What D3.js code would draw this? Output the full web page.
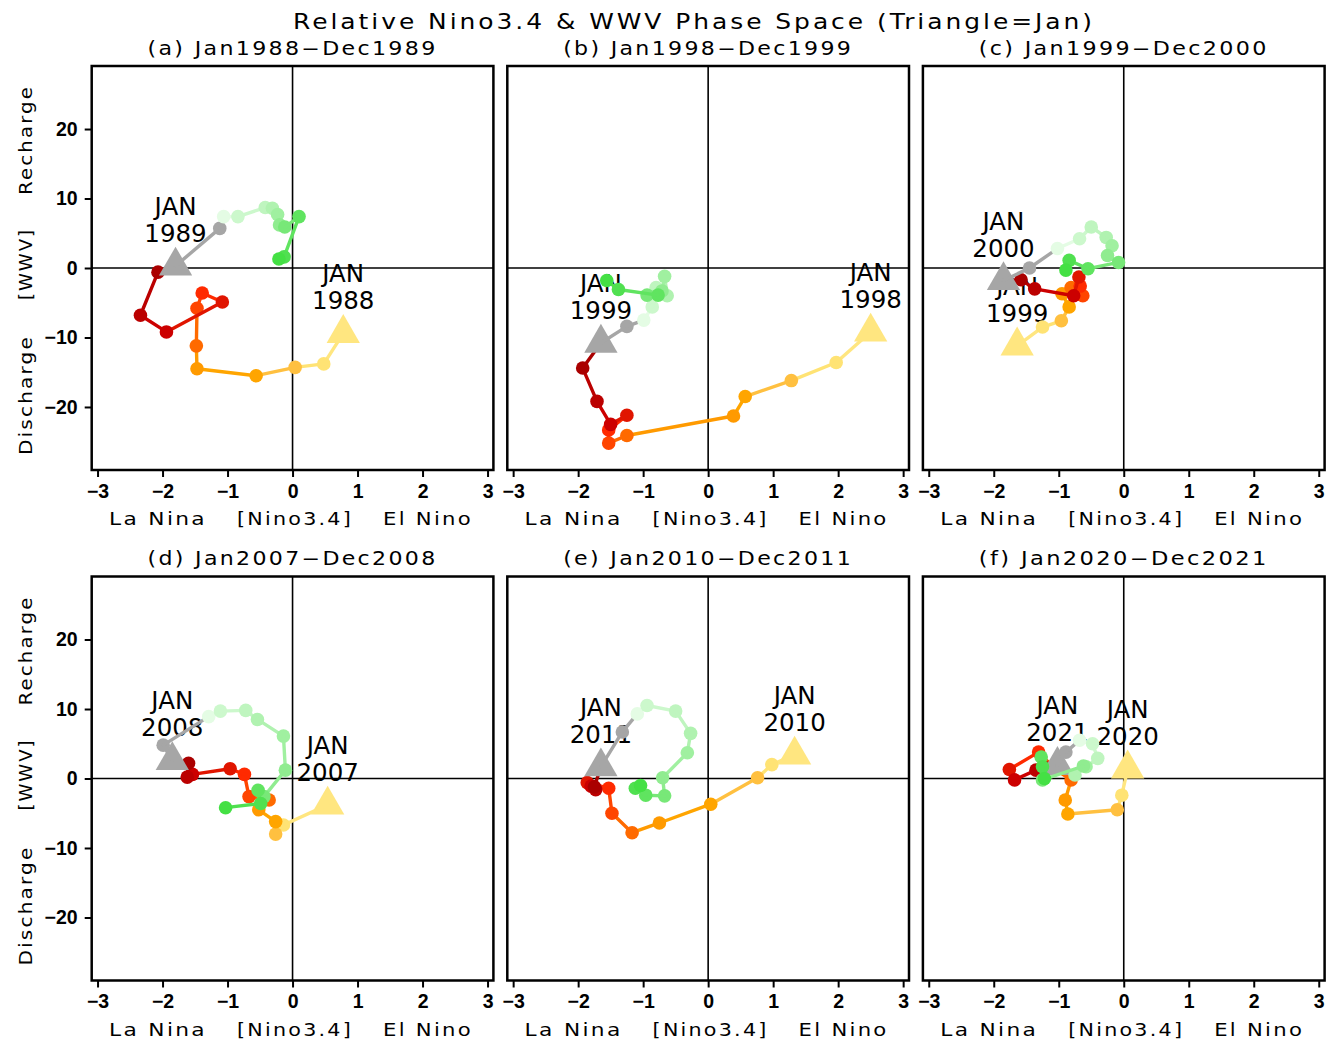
<!DOCTYPE html>
<html lang="en">
<head>
<meta charset="UTF-8">
<title>Relative Nino3.4 & WWV Phase Space</title>
<script src="https://d3js.org/d3.v7.min.js"></script>
<style>
    body { margin: 0; background: #fff; }
    svg { display: block; font-family: "DejaVu Sans", sans-serif; }
    .tick text { font-size: 19.5px; font-weight: bold; fill: #000; }
    .tick line { stroke: #000; stroke-width: 2; }
</style>
</head>
<body>
<svg width="1335" height="1043"></svg>
<script>
// panel titles and the two years of each panel
const panelTitles = ["(a) Jan1988\u2212Dec1989", "(b) Jan1998\u2212Dec1999", "(c) Jan1999\u2212Dec2000",
                     "(d) Jan2007\u2212Dec2008", "(e) Jan2010\u2212Dec2011", "(f) Jan2020\u2212Dec2021"];
const panelYears = [[1988, 1989], [1998, 1999], [1999, 2000], [2007, 2008], [2010, 2011], [2020, 2021]];

// monthly Nino3.4 (x) and WWV (y), Jan of year 1 .. Dec of year 2
const ninoA = [0.78, 0.48, 0.04, -0.56, -1.47, -1.48, -1.47, -1.39, -1.08, -1.94, -2.34, -2.07,
               -1.80, -1.12, -1.06, -0.84, -0.42, -0.31, -0.23, -0.20, -0.12, 0.10, -0.13, -0.21];
const wwvA  = [-9.4, -13.8, -14.3, -15.5, -14.5, -11.2, -5.8, -3.6, -4.9, -9.2, -6.8, -0.6,
               0.3, 5.7, 7.4, 7.4, 8.7, 8.6, 7.7, 6.2, 5.9, 7.4, 1.6, 1.3];

const ninoB = [2.50, 1.97, 1.28, 0.57, 0.39, -1.25, -1.53, -1.53, -1.25, -1.50, -1.71, -1.93,
               -1.65, -1.25, -0.99, -0.86, -0.80, -0.63, -0.67, -0.71, -0.94, -0.77, -1.38, -1.56];
const wwvB  = [-9.2, -13.6, -16.2, -18.5, -21.3, -24.1, -25.2, -23.3, -21.2, -22.5, -19.2, -14.4,
               -10.8, -8.4, -7.5, -5.6, -2.8, -4.0, -1.2, -3.3, -3.9, -3.9, -3.1, -1.8];

const ninoC = [-1.64, -1.25, -0.96, -0.84, -0.95, -0.81, -0.63, -0.67, -0.69, -0.77, -1.37, -1.58,
               -1.85, -1.45, -1.02, -0.68, -0.50, -0.27, -0.18, -0.25, -0.08, -0.55, -0.84, -0.89];
const wwvC  = [-11.2, -8.5, -7.6, -5.6, -3.7, -2.8, -4.0, -2.6, -1.3, -4.0, -3.0, -1.7,
               -1.8, 0.0, 2.8, 4.2, 5.9, 4.4, 3.2, 1.8, 0.8, -0.1, 1.1, -0.3];

const ninoD = [0.54, -0.14, -0.26, -0.26, -0.52, -0.36, -0.67, -0.74, -0.96, -1.54, -1.62, -1.60,
               -1.85, -1.99, -1.29, -1.11, -0.72, -0.54, -0.14, -0.11, -0.44, -0.53, -0.49, -1.03];
const wwvD  = [-3.8, -6.7, -8.0, -6.2, -4.5, -3.1, -2.6, 0.6, 1.4, 0.6, 0.2, 2.2,
               2.6, 4.8, 8.9, 9.7, 9.8, 8.5, 6.1, 1.2, -2.6, -1.7, -3.6, -4.2];

const ninoE = [1.33, 0.98, 0.76, 0.04, -0.75, -1.17, -1.48, -1.53, -1.86, -1.80, -1.73, -1.75,
               -1.65, -1.32, -1.09, -0.94, -0.50, -0.27, -0.32, -0.70, -0.67, -0.96, -1.12, -1.04];
const wwvE  = [3.4, 2.0, 0.1, -3.7, -6.4, -7.8, -5.0, -1.4, -0.6, -1.1, -1.6, -1.2,
               1.7, 6.7, 9.3, 10.5, 9.7, 6.5, 3.7, 0.1, -2.5, -2.4, -1.4, -1.0];

const ninoF = [0.06, -0.03, -0.10, -0.86, -0.90, -0.81, -1.05, -1.31, -1.76, -1.68, -1.35, -1.20,
               -1.02, -0.89, -0.68, -0.48, -0.40, -0.75, -0.58, -0.62, -1.25, -1.27, -1.25, -1.22];
const wwvF  = [1.4, -2.4, -4.5, -5.1, -3.1, -0.2, 1.3, 3.8, 1.3, -0.2, 1.2, 1.5,
               1.9, 3.8, 5.5, 5.0, 2.9, 0.5, 1.7, 1.8, -0.2, 3.1, 1.7, 0.0];

const ninoAll = [ninoA, ninoB, ninoC, ninoD, ninoE, ninoF];
const wwvAll  = [wwvA, wwvB, wwvC, wwvD, wwvE, wwvF];

// month colours: first year yellow -> dark red, second year grey -> green
const year1Colors = ["#ffe680", "#ffe374", "#ffc040", "#ffa500", "#ff9a00", "#ff6a00",
                     "#ff4500", "#ff2a00", "#e01500", "#cc0000", "#bb0000", "#aa0000"];
const year2Colors = ["#a6a6a6", "#a6a6a6", "#e4fce4", "#ccf8cc", "#bff5bf", "#b0f2b0",
                     "#a0f0a0", "#90ec90", "#78e878", "#60e460", "#50e050", "#44e044"];
const monthColors = year1Colors.concat(year2Colors);

const xTicks = [-3, -2, -1, 0, 1, 2, 3];
const yTicks = [-20, -10, 0, 10, 20];

const panelW = 401.7, panelH = 404;
const lefts = [91.7, 507.3, 922.9];
const tops = [66, 576.5];

const svg = d3.select("svg");

// wide, lightly spaced lettering like the original
function wideText(sel, size, len, spacing) {
    return sel.attr("font-size", size)
        .style("letter-spacing", spacing + "px")
        .attr("textLength", len)
        .attr("lengthAdjust", "spacingAndGlyphs");
}

wideText(svg.append("text"), 21, 802, 2.5)
    .attr("x", 694).attr("y", 29)
    .attr("text-anchor", "middle")
    .text("Relative Nino3.4 & WWV Phase Space (Triangle=Jan)");

const triangle = d3.symbol().type(d3.symbolTriangle).size(480);

panelTitles.forEach((title, p) => {
    const col = p % 3, row = Math.floor(p / 3);
    const g = svg.append("g").attr("transform", `translate(${lefts[col]},${tops[row]})`);

    const x = d3.scaleLinear().domain([-3.09, 3.09]).range([0, panelW]);
    const y = d3.scaleLinear().domain([-29.07, 29.07]).range([panelH, 0]);

    // title
    wideText(g.append("text"), 19, 290, 2)
        .attr("x", panelW / 2).attr("y", -11.5)
        .attr("text-anchor", "middle")
        .text(title);

    // zero lines
    g.append("line").attr("x1", x(0)).attr("x2", x(0)).attr("y1", 0).attr("y2", panelH)
        .attr("stroke", "#000").attr("stroke-width", 1.6);
    g.append("line").attr("x1", 0).attr("x2", panelW).attr("y1", y(0)).attr("y2", y(0))
        .attr("stroke", "#000").attr("stroke-width", 1.6);

    // x axis
    const xa = g.append("g")
        .attr("transform", `translate(0,${panelH})`)
        .call(d3.axisBottom(x).tickValues(xTicks).tickFormat(d3.format("d"))
            .tickSize(7).tickSizeOuter(0).tickPadding(7));
    xa.select(".domain").remove();

    const xTitle = [["La Nina", 66.3, 98], ["[Nino3.4]", 203.3, 116], ["El Nino", 336.3, 90]];
    xTitle.forEach(([t, cx, len]) => {
        wideText(g.append("text"), 18.5, len, 2)
            .attr("x", cx).attr("y", panelH + 55)
            .attr("text-anchor", "middle")
            .text(t);
    });

    // y axis only on the left column
    if (col === 0) {
        const ya = g.append("g")
            .call(d3.axisLeft(y).tickValues(yTicks).tickFormat(d3.format("d"))
                .tickSize(7).tickSizeOuter(0).tickPadding(7));
        ya.select(".domain").remove();

        const yTitle = [["Recharge", 74, 110], ["[WWV]", 198, 72], ["Discharge", 329, 120]];
        yTitle.forEach(([t, cy, len]) => {
            wideText(g.append("text"), 18.5, len, 2)
                .attr("transform", `translate(-60,${cy}) rotate(-90)`)
                .attr("text-anchor", "middle")
                .text(t);
        });
    }

    const nino = ninoAll[p], wwv = wwvAll[p];

    // JAN labels over the triangles (drawn below the tracks)
    [0, 12].forEach((i, k) => {
        const lbl = g.append("text")
            .attr("text-anchor", "middle")
            .attr("font-size", 24.5);
        lbl.append("tspan").attr("x", x(nino[i])).attr("y", y(wwv[i]) - 51).text("JAN");
        lbl.append("tspan").attr("x", x(nino[i])).attr("y", y(wwv[i]) - 24).text(panelYears[p][k]);
    });

    // track: segment to each month, then its marker
    nino.forEach((v, i) => {
        if (i > 0) {
            g.append("line")
                .attr("x1", x(nino[i - 1])).attr("y1", y(wwv[i - 1]))
                .attr("x2", x(v)).attr("y2", y(wwv[i]))
                .attr("stroke", monthColors[i - 1])
                .attr("stroke-width", 3.4)
                .attr("stroke-linecap", "round");
        }
        if (i === 0 || i === 12) {
            g.append("path")
                .attr("d", triangle)
                .attr("transform", `translate(${x(v)},${y(wwv[i])})`)
                .attr("fill", monthColors[i]);
        } else {
            g.append("circle")
                .attr("cx", x(v)).attr("cy", y(wwv[i]))
                .attr("r", 6.8)
                .attr("fill", monthColors[i]);
        }
    });

    // frame
    g.append("rect")
        .attr("width", panelW).attr("height", panelH)
        .attr("fill", "none")
        .attr("stroke", "#000")
        .attr("stroke-width", 2.5);
});
</script>
</body>
</html>
